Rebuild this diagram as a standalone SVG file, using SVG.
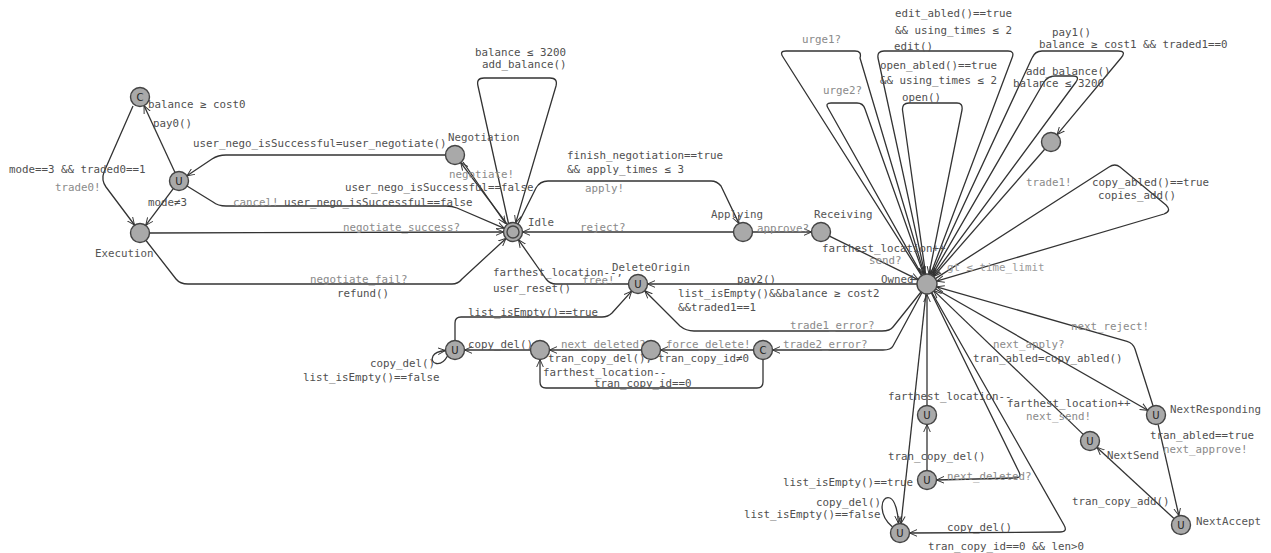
<svg xmlns="http://www.w3.org/2000/svg" width="1271" height="553" viewBox="0 0 1271 553">
<defs>
<marker id="a" viewBox="0 0 10 10" refX="9.5" refY="5" markerWidth="8" markerHeight="8" markerUnits="userSpaceOnUse" orient="auto"><path d="M0,0.8 L9.5,5 L0,9.2" fill="none" stroke="#333" stroke-width="1.2"/></marker>
<style>
.e{fill:none;stroke:#333;stroke-width:1.3;stroke-linejoin:round}
.ea{fill:none;stroke:#333;stroke-width:1.3;stroke-linejoin:round;marker-end:url(#a)}
text{font-family:"DejaVu Sans Mono","Liberation Mono",monospace;font-size:10.8px}
.g{fill:#505050}
.s{fill:#8a8a8a}
.n{fill:#555}
.i{fill:#9a9a9a}
.loc{fill:#a9a9a9;stroke:#444;stroke-width:1.4}
.sym{font-family:"DejaVu Sans",sans-serif;font-size:10px;fill:#222;text-anchor:middle}
</style>
</defs>
<rect width="1271" height="553" fill="#fff"/>

<g id="connectors">
<path class="ea" d="M133,106 L104,172 Q101,180 106,187 L134.5,225"/>
<path class="ea" d="M175,172.4 L144,105.6"/>
<path class="ea" d="M173.3,188.6 L145.7,225.4"/>
<path class="ea" d="M445.5,155 L226,155 Q218,155 212,159 L187,175.8"/>
<path class="ea" d="M187,186 L213,202 Q218,206 226,206 L446,206 Q452,206 457,208 L504.3,228.3"/>
<path class="ea" d="M149.5,233 L503.5,232"/>
<path class="ea" d="M146,240.5 L176,279 Q180,284 188,284 L452,284 Q458,284 462,279 L506,238.4"/>
<path class="ea" d="M507.3,224.4 L460.7,162.6"/>
<path class="ea" d="M463,162 L505.5,223.5"/>
<path class="ea" d="M508.5,223.5 L478,86 Q476,78 484,78 L550,78 Q558,78 556,86 L515.7,222.9"/>
<path class="ea" d="M518,224 L536,188 Q540,181 548,181 L711,181 Q717,181 721,186 L738.9,223.4"/>
<path class="ea" d="M733.5,232 L522.5,232"/>
<path class="ea" d="M752.5,232 L811.5,232"/>
<path class="ea" d="M829.5,236.2 L918.5,279.8"/>
<path class="ea" d="M917,284 L647.5,284"/>
<path class="ea" d="M921,292 L893,327 Q890,331 882,331 L694,331 Q686,331 680,326 L644.7,290.7"/>
<path class="ea" d="M922,292.5 L893,346 Q891,350 883,350 L772.5,350"/>
<path class="ea" d="M753.5,350 L660.5,350"/>
<path class="ea" d="M763,359.5 L763,382 Q763,388 757,388 L546,388 Q540,388 540,382 L540,359.5"/>
<path class="ea" d="M641.5,350 L549.5,350"/>
<path class="ea" d="M530.5,350 L464.5,350"/>
<path class="ea" d="M447.5,356 C441,368 429,364 433,356 C435,352 440,351 445.5,350.5"/>
<path class="ea" d="M455,340.5 L455,323 Q455,317 461,317 L602,317 Q608,317 612,313 L631.7,291.1"/>
<path class="ea" d="M628.5,284 L556,284 Q550,284 546,279 L518.5,239.8"/>
<path class="ea" d="M921.6,275.6 L783,57 Q779,51 786,51 L855,51 Q862,51 860,58 L924.3,274.4"/>
<path class="ea" d="M922.1,275.3 L828,108 Q825,103 831,103 L857,103 Q863,103 865,109 L923.7,274.6"/>
<path class="ea" d="M924.9,274.2 L878,58 Q877,51 884,51 L1008,51 Q1015,51 1012,58 L930.5,274.6"/>
<path class="ea" d="M925.6,274.1 L902.5,110 Q902,103 909,103 L957,103 Q963,103 962,110 L929,274.2"/>
<path class="ea" d="M931.2,274.9 L1032,58 Q1035,51 1042,51 L1118,51 Q1127,51 1121,58 L1057.1,134.7"/>
<path class="ea" d="M1044.7,149.2 L933.6,276.5"/>
<path class="ea" d="M932,275.4 L1044,82 Q1048,76 1055,76 L1073,76 Q1080,76 1076,82 L932.9,275.9"/>
<path class="ea" d="M935.4,278.6 L1109,167 Q1115,163 1120,167 L1166,205 Q1172,211 1164,214 L936.6,281.2"/>
<path class="ea" d="M927,405.5 L927,294.5"/>
<path class="ea" d="M927,470.5 L927,424.5"/>
<path class="ea" d="M931.4,293 L1019,472 Q1022,478 1015,478 L936.5,480"/>
<path class="ea" d="M925.9,294 L901,523.6"/>
<path class="ea" d="M932,292.7 L1064,525 Q1068,532 1060,532 L909.5,533"/>
<path class="ea" d="M892.5,527 C878,515 880,495 890,498 C895,500 898,512 898.5,523.5"/>
<path class="ea" d="M935.7,289 L1147.8,410.3"/>
<path class="ea" d="M1153.1,406 L1135,349 Q1133,343 1127,341.3 L936.6,286.8"/>
<path class="ea" d="M1083.2,434.4 L933.8,290.6"/>
<path class="ea" d="M1158.1,424.3 L1178.9,515.7"/>
<path class="ea" d="M1174,518.6 L1097,447.4"/>
</g>

<g id="labels">
<text x="148" y="108" class="g">balance ≥ cost0</text>
<text x="153" y="127" class="g">pay0()</text>
<text x="193" y="147" class="g">user_nego_isSuccessful=user_negotiate()</text>
<text x="9" y="173" class="g">mode==3 &amp;&amp; traded0==1</text>
<text x="55" y="191" class="s">trade0!</text>
<text x="148" y="206" class="g">mode≠3</text>
<text x="233" y="206"><tspan class="s">cancel!</tspan><tspan class="g" x="284">user_nego_isSuccessful==false</tspan></text>
<text x="449" y="178" class="s">negotiate!</text>
<text x="345" y="191" class="g">user_nego_isSuccessful==false</text>
<text x="475" y="56" class="g">balance ≤ 3200</text>
<text x="482" y="68" class="g">add_balance()</text>
<text x="343" y="231" class="s">negotiate_success?</text>
<text x="310" y="283" class="s">negotiate_fail?</text>
<text x="337" y="297" class="g">refund()</text>
<text x="567" y="159" class="g">finish_negotiation==true</text>
<text x="567" y="173" class="g">&amp;&amp; apply_times ≤ 3</text>
<text x="585" y="192" class="s">apply!</text>
<text x="580" y="231" class="s">reject?</text>
<text x="757" y="232" class="s">approve?</text>
<text x="822" y="252" class="g">farthest_location++</text>
<text x="869" y="264" class="s">send?</text>
<text x="947" y="271" class="i">gt ≤ time_limit</text>
<text x="493" y="276" class="g">farthest_location--,</text>
<text x="493" y="292" class="g">user_reset()</text>
<text x="582" y="284" class="s">free!</text>
<text x="737" y="283" class="g">pay2()</text>
<text x="678" y="297" class="g">list_isEmpty()&amp;&amp;balance ≥ cost2</text>
<text x="678" y="311" class="g">&amp;&amp;traded1==1</text>
<text x="468" y="316" class="g">list_isEmpty()==true</text>
<text x="790" y="329" class="s">trade1_error?</text>
<text x="468" y="348" class="g">copy_del()</text>
<text x="561" y="348" class="s">next_deleted?</text>
<text x="548" y="362" class="g">tran_copy_del(),</text>
<text x="666" y="348" class="s">force_delete!</text>
<text x="658" y="362" class="g">tran_copy_id≠0</text>
<text x="783" y="348" class="s">trade2_error?</text>
<text x="543" y="376" class="g">farthest_location--</text>
<text x="594" y="387" class="g">tran_copy_id==0</text>
<text x="370" y="367" class="g">copy_del()</text>
<text x="303" y="381" class="g">list_isEmpty()==false</text>
<text x="802" y="43" class="s">urge1?</text>
<text x="823" y="94" class="s">urge2?</text>
<text x="895" y="17" class="g">edit_abled()==true</text>
<text x="895" y="34" class="g">&amp;&amp; using_times ≤ 2</text>
<text x="894" y="50" class="g">edit()</text>
<text x="880" y="69" class="g">open_abled()==true</text>
<text x="880" y="84" class="g">&amp;&amp; using_times ≤ 2</text>
<text x="902" y="101" class="g">open()</text>
<text x="1052" y="36" class="g">pay1()</text>
<text x="1039" y="48" class="g">balance ≥ cost1 &amp;&amp; traded1==0</text>
<text x="1026" y="75" class="g">add_balance()</text>
<text x="1013" y="87" class="g">balance ≤ 3200</text>
<text x="1026" y="186" class="s">trade1!</text>
<text x="1092" y="186" class="g">copy_abled()==true</text>
<text x="1098" y="199" class="g">copies_add()</text>
<text x="1071" y="330" class="s">next_reject!</text>
<text x="993" y="348" class="s">next_apply?</text>
<text x="973" y="362" class="g">tran_abled=copy_abled()</text>
<text x="888" y="400" class="g">farthest_location--</text>
<text x="1007" y="407" class="g">farthest_location++</text>
<text x="1026" y="420" class="s">next_send!</text>
<text x="1150" y="439" class="g">tran_abled==true</text>
<text x="1163" y="453" class="s">next_approve!</text>
<text x="888" y="460" class="g">tran_copy_del()</text>
<text x="783" y="486" class="g">list_isEmpty()==true</text>
<text x="947" y="480" class="s">next_deleted?</text>
<text x="816" y="506" class="g">copy_del()</text>
<text x="744" y="518" class="g">list_isEmpty()==false</text>
<text x="1072" y="505" class="g">tran_copy_add()</text>
<text x="947" y="531" class="g">copy_del()</text>
<text x="928" y="550" class="g">tran_copy_id==0 &amp;&amp; len&gt;0</text>
</g>

<g id="c0"><circle class="loc" cx="140" cy="97" r="9.5"/><text class="sym" x="140" y="101">C</text></g>
<g id="u0"><circle class="loc" cx="179" cy="181" r="9.5"/><text class="sym" x="179" y="185">U</text></g>
<g id="execution"><circle class="loc" cx="140" cy="233" r="9.5"/><text x="95" y="257" class="n">Execution</text></g>
<g id="negotiation"><circle class="loc" cx="455" cy="155" r="9.5"/><text x="448" y="141" class="n">Negotiation</text></g>
<g id="idle"><circle class="loc" cx="513" cy="232" r="9.5"/><circle class="loc" cx="513" cy="232" r="6"/><text x="528" y="226" class="n">Idle</text></g>
<g id="applying"><circle class="loc" cx="743" cy="232" r="9.5"/><text x="711" y="218" class="n">Applying</text></g>
<g id="receiving"><circle class="loc" cx="821" cy="232" r="9.5"/><text x="814" y="218" class="n">Receiving</text></g>
<g id="owned"><circle class="loc" cx="927" cy="284" r="10"/><text x="881" y="283" class="n">Owned</text></g>
<g id="deleteorigin"><circle class="loc" cx="638" cy="284" r="9.5"/><text class="sym" x="638" y="288">U</text><text x="612" y="271" class="n">DeleteOrigin</text></g>
<g id="cd"><circle class="loc" cx="455" cy="350" r="9.5"/><text class="sym" x="455" y="354">U</text></g>
<g id="d1"><circle class="loc" cx="540" cy="350" r="9.5"/></g>
<g id="d2"><circle class="loc" cx="651" cy="350" r="9.5"/></g>
<g id="c2"><circle class="loc" cx="763" cy="350" r="9.5"/><text class="sym" x="763" y="354">C</text></g>
<g id="p1"><circle class="loc" cx="1051" cy="142" r="9.5"/></g>
<g id="uf"><circle class="loc" cx="927" cy="415" r="9.5"/><text class="sym" x="927" y="419">U</text></g>
<g id="ue"><circle class="loc" cx="927" cy="480" r="9.5"/><text class="sym" x="927" y="484">U</text></g>
<g id="ul"><circle class="loc" cx="900" cy="533" r="9.5"/><text class="sym" x="900" y="537">U</text></g>
<g id="nextsend"><circle class="loc" cx="1090" cy="441" r="9.5"/><text class="sym" x="1090" y="445">U</text><text x="1107" y="459" class="n">NextSend</text></g>
<g id="nextresponding"><circle class="loc" cx="1156" cy="415" r="9.5"/><text class="sym" x="1156" y="419">U</text><text x="1170" y="413" class="n">NextResponding</text></g>
<g id="nextaccept"><circle class="loc" cx="1181" cy="525" r="9.5"/><text class="sym" x="1181" y="529">U</text><text x="1196" y="525" class="n">NextAccept</text></g>
</svg>
